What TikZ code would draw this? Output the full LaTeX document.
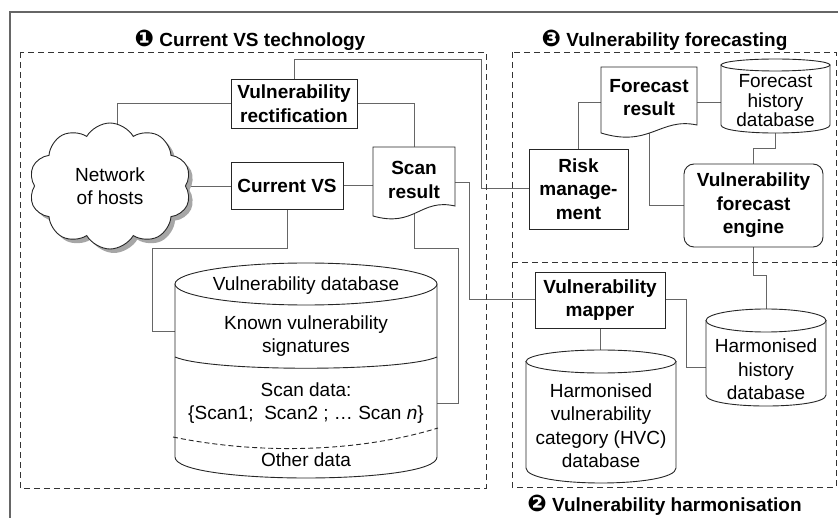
\documentclass[tikz,border=0pt]{standalone}
\usepackage{fontspec}
\setmainfont{Liberation Sans}
\newfontfamily\djv{DejaVu Sans}
\usetikzlibrary{shapes.symbols,shadows,backgrounds}
\newcommand\bignum[1]{{\djv\fontsize{23}{23}\selectfont #1}}
\begin{document}
\begin{tikzpicture}[x=1pt,y=-1pt,
  every node/.style={inner sep=0pt, outer sep=0pt},
  txt/.style={align=center, font=\fontsize{19}{23.5}\selectfont},
  btxt/.style={align=center, font=\fontsize{19}{23.5}\selectfont\bfseries},
  box/.style={btxt, draw=black!85, line width=0.9pt, fill=white},
  shp/.style={draw=black!85, line width=0.9pt, fill=white},
  conn/.style={draw=black!60, line width=1pt},
  grp/.style={draw=black!80, line width=0.9pt, dash pattern=on 6pt off 4pt},
  ttl/.style={font=\fontsize{19}{23}\selectfont\bfseries}
]
\useasboundingbox (0,0) rectangle (838,518);
% outer frame
\draw[draw=black!60, line width=1.5pt] (10,518) -- (10,12) -- (838,12);
% group boxes
\draw[grp] (20,52) rectangle (486,488);
\draw[grp] (512,52) rectangle (836,262);
\draw[grp] (512,262) -- (512,487) -- (836,487) -- (836,262);
% titles
\node[ttl] (t1) at (250,40) {\bignum{❶} Current VS technology};
\node[ttl] (t3) at (664.5,40) {\bignum{❸} Vulnerability forecasting};
\node[ttl] (t2) at (664.5,505) {\bignum{❷} Vulnerability harmonisation};
% boxes
\node[box, minimum width=126pt, minimum height=49pt] (vr) at (294,103.5) {Vulnerability\\rectification};
\node[box, minimum width=112pt, minimum height=47pt] (cvs) at (287,185.5) {Current VS};
\node[cloud, cloud puffs=10, cloud puff arc=120, aspect=1.3, shp, minimum width=162pt, minimum height=126pt, txt, drop shadow={shadow xshift=4pt, shadow yshift=-4pt, fill=black!35, opacity=1}] (cloud) at (110,186) {Network\\of hosts};
% scan result document
\node[minimum width=82pt, minimum height=59pt] (scan) at (414,176.5) {};
\path[shp] (373,147) -- (455,147) -- (455,206) .. controls (420,198) and (415,228) .. (373,216) -- cycle;
\node[btxt] (scantxt) at (414,180) {Scan\\result};
% vulnerability database
\node[minimum width=262pt, minimum height=215pt] (vdb) at (306,370.5) {};
\path[shp] (175,284) -- (175,457) .. controls (175,485) and (437,485) .. (437,457) -- (437,284) -- cycle;
\path[shp] (306,284) ellipse [x radius=131, y radius=21];
\draw[draw=black!85, line width=0.9pt] (175,357) .. controls (210,372) and (402,372) .. (437,357);
\draw[draw=black!85, line width=0.9pt, dash pattern=on 5pt off 3pt] (173,437) .. controls (260,455) and (360,452) .. (438,428);
\node[txt] (vdbt1) at (306,286) {Vulnerability database};
\node[txt] (vdbt2) at (306,336) {Known vulnerability\\signatures};
\node[txt] (vdbt3) at (306,403) {Scan data:\\\{Scan1;\ \ Scan2 ; … Scan \textit{n}\}};
\node[txt] (vdbt4) at (306,460) {Other data};
% forecast result document
\node[minimum width=96pt, minimum height=58pt] (fr) at (649,96) {};
\path[shp] (601,67) -- (697,67) -- (697,125) .. controls (660,117) and (650,148) .. (601,133) -- cycle;
\node[btxt] (frtxt) at (649,97.5) {Forecast\\result};
% forecast history database
\node[minimum width=109pt, minimum height=74pt] (fhd) at (775.5,96) {};
\path[shp] (721,65) -- (721,125) .. controls (721,135.7) and (830,135.7) .. (830,125) -- (830,65) -- cycle;
\path[shp] (775.5,65) ellipse [x radius=54.5, y radius=6];
\node[txt, font=\fontsize{19}{19.5}\selectfont] (fhdtxt) at (775.5,101) {Forecast\\history\\database};
% boxes right
\node[box, minimum width=99pt, minimum height=80pt] (rm) at (578.5,189) {Risk\\manage-\\ment};
\node[box, rounded corners=10pt, minimum width=139pt, minimum height=83pt] (vfe) at (753.5,205.5) {Vulnerability\\forecast\\engine};
\node[box, minimum width=130pt, minimum height=56pt] (vm) at (600,300) {Vulnerability\\mapper};
% harmonised history database
\node[minimum width=120pt, minimum height=97pt] (hhd) at (766,357.5) {};
\path[shp] (706,320.5) -- (706,395) .. controls (706,409.7) and (826,409.7) .. (826,395) -- (826,320.5) -- cycle;
\path[shp] (766,320.5) ellipse [x radius=60, y radius=11.5];
\node[txt] (hhdtxt) at (766,369.5) {Harmonised\\history\\database};
% HVC database
\node[minimum width=150pt, minimum height=133pt] (hvc) at (601,416.5) {};
\path[shp] (526,361.5) -- (526,468) .. controls (526,488) and (676,488) .. (676,468) -- (676,361.5) -- cycle;
\path[shp] (601,361.5) ellipse [x radius=75, y radius=11.5];
\node[txt] (hvctxt) at (601,425.5) {Harmonised\\vulnerability\\category (HVC)\\database};
% connectors
\begin{pgfonlayer}{background}
\coordinate (c1) at (481,60);
\draw[conn] (vr.north) |- (c1) |- (rm.west);
\draw[conn] (vr.east) -| (scan.north);
\draw[conn] (vr.west) -| ([xshift=7pt]cloud.center);
\draw[conn] (cloud.east) -- (cloud.east -| cvs.west);
\draw[conn] (cvs.east) -- (cvs.east -| scan.west);
\coordinate (c2) at (152,249);
\draw[conn] (cvs.south) |- (c2) |- ([yshift=38.5pt]vdb.west);
\coordinate (c3) at (469,300);
\draw[conn] ([yshift=-6.5pt]scan.east) -| (c3) -- (vm.west);
\coordinate (c4) at (458,249);
\draw[conn] (scan.south) |- (c4) |- ([yshift=-33.5pt]vdb.east);
\draw[conn] ([yshift=-7pt]fr.west) -| (rm.north);
\draw[conn] ([yshift=-7pt]fr.east) -- ([yshift=-7pt]fhd.west);
\draw[conn] (fhd.south) -- ++(0,16) -| (vfe.north);
\draw[conn] (fr.south) |- (vfe.west);
\draw[conn] (vfe.south) -- ++(0,29) -| (hhd.north);
\draw[conn] (vm.east) -- ++(21,0) |- ([yshift=-10.5pt]hhd.west);
\draw[conn] (vm.south) -- (vm.south |- hvc.north);
\end{pgfonlayer}
\end{tikzpicture}
\end{document}
